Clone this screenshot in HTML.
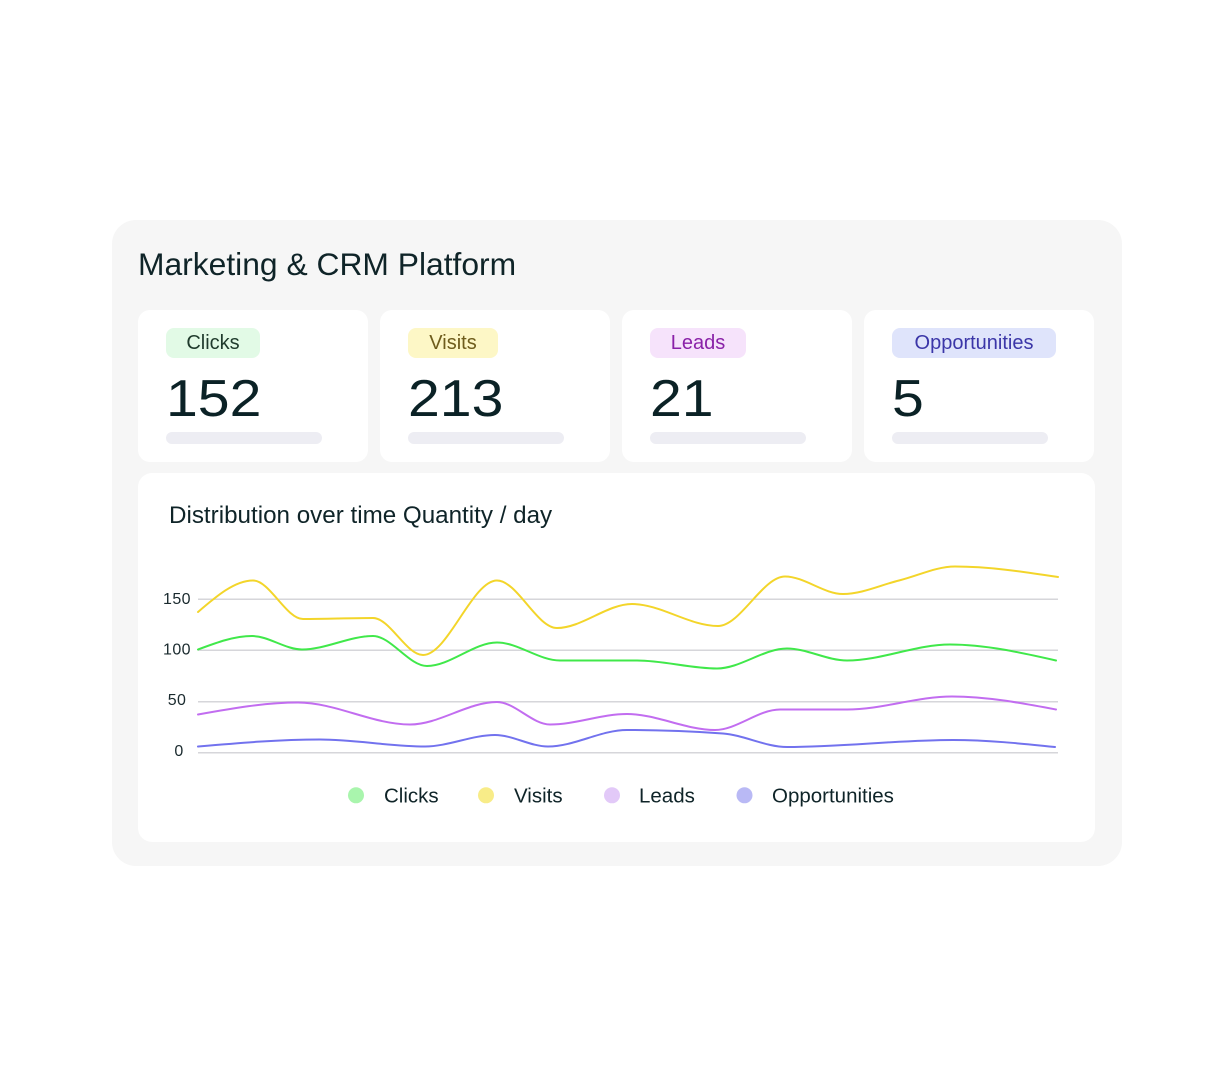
<!DOCTYPE html>
<html>
<head>
<meta charset="utf-8">
<style>
  html, body { margin:0; padding:0; }
  body { width:1232px; height:1088px; background:#ffffff; position:relative; overflow:hidden;
         font-family:"Liberation Sans", Arial, sans-serif; color:#0f2428; }
  .outer { position:absolute; left:112px; top:220px; width:1010px; height:646px; background:#f6f6f6; border-radius:24px; }
  .title { position:absolute; left:138px; top:249px; font-size:31.8px; line-height:31.8px; white-space:nowrap; color:#0f2428; }
  .card { position:absolute; top:310px; width:230px; height:152px; background:#ffffff; border-radius:12px; }
  .badge { position:absolute; left:28px; top:18px; height:30px; line-height:30px; font-size:20px; text-align:center; border-radius:8px; white-space:nowrap; }
  .num { position:absolute; left:28px; top:63px; font-size:52px; line-height:52px; color:#0b2226; transform:scaleX(1.1); transform-origin:left center; white-space:nowrap; }
  .bar { position:absolute; left:28px; top:122px; width:156px; height:12px; border-radius:6px; background:#ededf3; }
  .chartcard { position:absolute; left:138px; top:473px; width:957px; height:369px; background:#ffffff; border-radius:14px; }
  .ctitle { position:absolute; left:169px; top:504px; font-size:24.2px; line-height:24.2px; white-space:nowrap; color:#0f2428; }
  svg { position:absolute; left:0; top:0; }
</style>
</head>
<body>
  <div class="outer"></div>
  <div class="title">Marketing &amp; CRM Platform</div>

  <div class="card" style="left:138px;">
    <div class="badge" style="width:94px;background:#e2fae6;color:#1f3a2c;">Clicks</div>
    <div class="num">152</div>
    <div class="bar"></div>
  </div>
  <div class="card" style="left:380px;">
    <div class="badge" style="width:90px;background:#fdf7c6;color:#6e5c1c;">Visits</div>
    <div class="num">213</div>
    <div class="bar"></div>
  </div>
  <div class="card" style="left:622px;">
    <div class="badge" style="width:96px;background:#f6e3fb;color:#8a22a8;">Leads</div>
    <div class="num">21</div>
    <div class="bar"></div>
  </div>
  <div class="card" style="left:864px;">
    <div class="badge" style="width:164px;background:#dfe4fb;color:#3b36a8;">Opportunities</div>
    <div class="num">5</div>
    <div class="bar"></div>
  </div>

  <div class="chartcard"></div>
  <div class="ctitle">Distribution over time Quantity / day</div>

  <svg width="1232" height="1088" viewBox="0 0 1232 1088" xmlns="http://www.w3.org/2000/svg">
    <g stroke="#d6d6da" stroke-width="1.5">
      <line x1="198" y1="599.3" x2="1058" y2="599.3"/>
      <line x1="198" y1="650.3" x2="1058" y2="650.3"/>
      <line x1="198" y1="701.7" x2="1058" y2="701.7"/>
      <line x1="198" y1="752.7" x2="1058" y2="752.7"/>
    </g>
    <g font-family="Liberation Sans, Arial, sans-serif" font-size="16" fill="#1a2a2e" text-anchor="middle" letter-spacing="0.4">
      <text x="177" y="604">150</text>
      <text x="177" y="654.5">100</text>
      <text x="177" y="705">50</text>
      <text x="179" y="756">0</text>
    </g>
    <g fill="none" stroke-width="2" stroke-linecap="round" stroke-linejoin="round">
      <path stroke="#f3d52a" d="M198,612 C216.3,596.3 234.7,580.5 253,580.5 C269.7,580.5 286.3,619 303,619 C326.3,619 349.7,618 373,618 C389.7,618 406.3,655 423,655 C447.7,655 472.3,580.5 497,580.5 C517,580.5 537,628 557,628 C582,628 607,604 632,604 C660.7,604 689.3,626 718,626 C740.3,626 762.7,576.5 785,576.5 C804.3,576.5 823.7,594 843,594 C861.7,594 880.3,585.1 899,580.5 C917.7,575.9 936.3,566.5 955,566.5 C989.3,566.5 1023.7,571.8 1058,577"/>
      <path stroke="#40e84a" d="M198,649.5 C216,642.8 234,636 252,636 C268.7,636 285.3,649.5 302,649.5 C325.7,649.5 349.3,636 373,636 C391,636 409,666 427,666 C450.3,666 473.7,642.5 497,642.5 C518,642.5 539,660.5 560,660.5 C585.7,660.5 611.3,660.5 637,660.5 C663.7,660.5 690.3,668.5 717,668.5 C740.3,668.5 763.7,648.5 787,648.5 C807,648.5 827,660.5 847,660.5 C881.3,660.5 915.7,644.5 950,644.5 C985.3,644.5 1020.7,652.5 1056,660.5"/>
      <path stroke="#c26df0" d="M198,714.5 C231.3,708.5 264.7,702.5 298,702.5 C335.3,702.5 372.7,724.5 410,724.5 C439,724.5 468,702 497,702 C514.7,702 532.3,724.5 550,724.5 C575.7,724.5 601.3,714 627,714 C656.3,714 685.7,730 715,730 C736.7,730 758.3,709.5 780,709.5 C802.3,709.5 824.7,709.5 847,709.5 C882,709.5 917,696.5 952,696.5 C986.7,696.5 1021.3,703 1056,709.5"/>
      <path stroke="#7272ee" d="M198,746.5 C238.7,743 279.3,739.5 320,739.5 C355,739.5 390,746.5 425,746.5 C448.3,746.5 471.7,735 495,735 C512.7,735 530.3,746.5 548,746.5 C574.3,746.5 600.7,730 627,730 C659,730 691,731.2 723,733.5 C744.3,735.1 765.7,747 787,747 C842.3,747 897.7,740 953,740 C987,740 1021,743.5 1055,747"/>
    </g>
    <g>
      <circle cx="356" cy="795.3" r="8" fill="#a9f5ad"/>
      <circle cx="486" cy="795.3" r="8" fill="#f8ec88"/>
      <circle cx="612" cy="795.3" r="8" fill="#e2c9f8"/>
      <circle cx="744.5" cy="795.3" r="8" fill="#b9b9f5"/>
    </g>
    <g font-family="Liberation Sans, Arial, sans-serif" font-size="20.5" fill="#0f2428">
      <text x="384" y="802.5">Clicks</text>
      <text x="514" y="802.5">Visits</text>
      <text x="639" y="802.5">Leads</text>
      <text x="772" y="802.5">Opportunities</text>
    </g>
  </svg>
</body>
</html>
